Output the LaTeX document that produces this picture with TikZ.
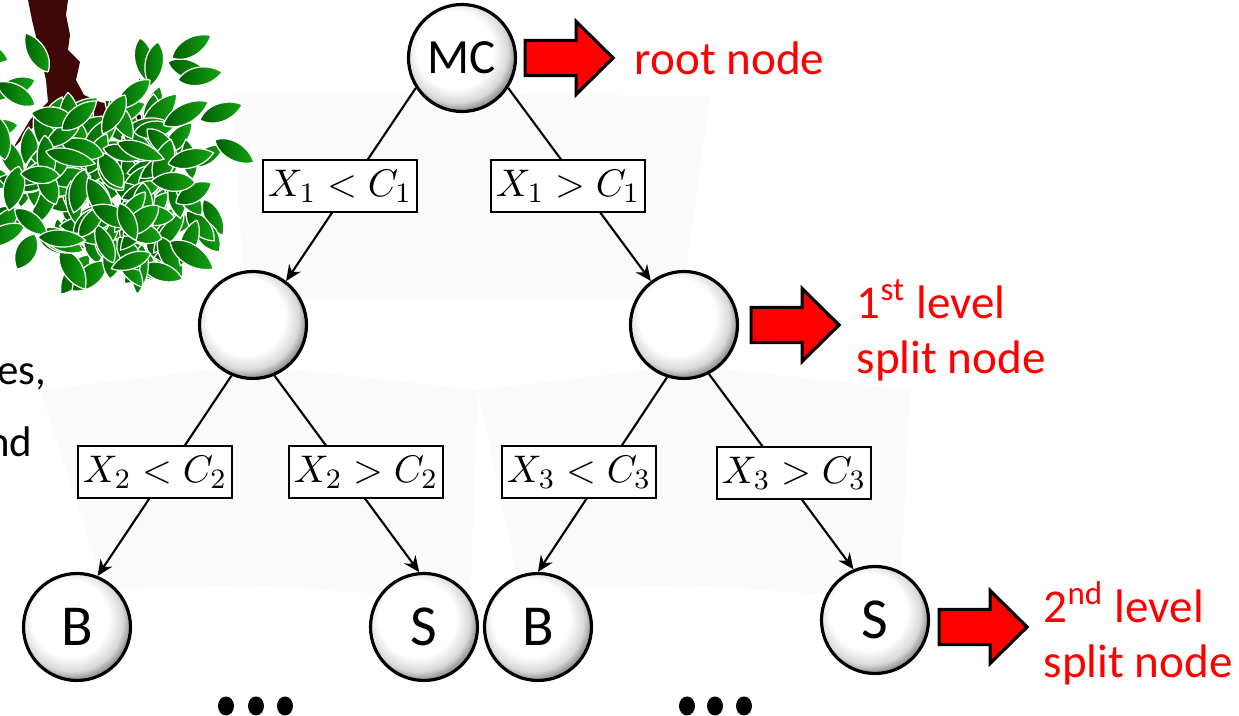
\documentclass[tikz,border=0pt]{standalone}
\usepackage{fontspec}
\setmainfont{Carlito}
\usetikzlibrary{arrows.meta, positioning}
\definecolor{leafdark}{RGB}{0,92,0}
\definecolor{leaflight}{RGB}{20,165,20}
\definecolor{bark}{RGB}{62,6,6}
\definecolor{markred}{RGB}{255,0,0}
% white ball, darker rim towards the lower right
\pgfdeclareradialshading{bubble}{\pgfpoint{-5bp}{6bp}}{color(0bp)=(white); color(18bp)=(white); color(24bp)=(black!15); color(27bp)=(black!40); color(50bp)=(black!40)}

\begin{document}
\begin{tikzpicture}[
  x=0.1mm, y=-0.1mm,
  treenode/.style={circle, draw, line width=0.9pt, shading=bubble, minimum size=1.07cm,
    inner sep=0pt},
  cond/.style={rectangle, draw, fill=white, line width=0.6pt, minimum width=1.54cm,
    minimum height=0.52cm, inner sep=1pt, font=\fontsize{11}{13}\selectfont},
  arrow/.style={-{Stealth[length=4.5pt, width=4pt]}, line width=0.6pt},
  note/.style={text=markred, font=\fontsize{13.4}{15.5}\selectfont, align=left, inner sep=0pt},
  redarrow/.pic={
    \draw[fill=markred, line width=0.9pt, line join=miter]
      (0,-17.5) -- (51,-17.5) -- (51,-36.5) -- (88,0) -- (51,36.5) -- (51,17.5) -- (0,17.5) -- cycle;
    \coordinate (-tip) at (88,0);},
  leaf/.pic={
    \shade[left color=leafdark, right color=leaflight, draw=white, line width=0.35pt]
      (0,0) .. controls (10,-12) and (32,-12) .. (45,0) .. controls (32,12) and (10,12) .. (0,0);}
]
\useasboundingbox (0,0) rectangle (1239,716);

% pale pages in the back
\fill[black!1.5] (232,92) -- (710,96) -- (682,300) -- (245,300) -- cycle;
\fill[black!1.5] (40,390) -- (250,365) -- (478,390) -- (470,600) -- (250,585) -- (105,590) -- cycle;
\fill[black!1.5] (478,390) -- (690,365) -- (910,390) -- (900,600) -- (690,585) -- (520,590) -- cycle;

% the little tree
\fill[bark] (28,0) -- (68,0) -- (66,15) -- (70,35) -- (68,50) -- (80,62) -- (76,80) -- (84,95)
  -- (100,102) -- (128,108) -- (140,78) -- (137,112) -- (152,128) -- (118,120) -- (100,128)
  -- (78,118) -- (55,116) -- (35,125) -- (12,150) -- (30,120) -- (48,102) -- (46,80)
  -- (38,45) -- (32,20) -- cycle;
\pgfmathsetseed{17}
\foreach \i in {1,...,190}{
  \pgfmathsetmacro\ang{360*rnd}
  \pgfmathsetmacro\rad{sqrt(rnd)}
  \pgfmathsetmacro\lx{112+100*\rad*cos(\ang)}
  \pgfmathsetmacro\ly{192+78*\rad*sin(\ang)}
  \pgfmathsetmacro\rot{360*rnd}
  \pic[rotate=\rot, scale=0.85+0.3*rnd] at (\lx,\ly) {leaf};
}
\foreach \lx/\ly/\rot in {140/38/-80, 158/42/-100, 168/62/-20, 178/80/10, 150/80/-140,
  172/58/30, 35/80/200, 12/95/170, 48/72/120, 35/105/150, 18/125/190, 110/100/-60,
  125/95/-120, 62/130/40, 200/120/20, 215/140/-30, 5/160/100, 8/60/160}
  \pic[rotate=\rot] at (\lx,\ly) {leaf};

% cut text at the left border
\node[anchor=base east, font=\fontsize{12.2}{14}\selectfont, inner sep=0pt] (lineA) at (47,385) {es,};
\node[anchor=base east, font=\fontsize{12.2}{14}\selectfont, inner sep=0pt] (lineB) at (33,457) {nd};

% tree nodes
\node[treenode, font=\fontsize{14}{16}\selectfont] (mc) at (462,58) {MC};
\node[treenode] (n1l) at (253,325) {};
\node[treenode] (n1r) at (684,325) {};
\node[treenode, font=\fontsize{16.5}{18}\selectfont] (bl) at (77,627) {B};
\node[treenode, font=\fontsize{16.5}{18}\selectfont] (sl) at (424,627) {S};
\node[treenode, font=\fontsize{16.5}{18}\selectfont] (br) at (538,627) {B};
\node[treenode, font=\fontsize{16.5}{18}\selectfont] (sr) at (875,620) {S};

\draw[arrow] (mc.213) -- (n1l.53);
\draw[arrow] (mc.327) -- (n1r.127);
\draw[arrow] (n1l.247) -- (bl.68);
\draw[arrow] (n1l.293) -- (sl.95);
\draw[arrow] (n1r.252) -- (br.90);
\draw[arrow] (n1r.297) -- (sr.113);

% split conditions
\node[cond] (c1l) at (340,186) {$X_1 < C_1$};
\node[cond] (c1r) at (568,186) {$X_1 > C_1$};
\node[cond] (c2l) at (155,472) {$X_2 < C_2$};
\node[cond] (c2r) at (366,472) {$X_2 > C_2$};
\node[cond] (c3l) at (579,472) {$X_3 < C_3$};
\node[cond] (c3r) at (794,473) {$X_3 > C_3$};

% more branches below
\foreach \dx in {226,256,285,687,715,744}
  \fill (\dx,706) ellipse [x radius=0.8mm, y radius=0.95mm];

% red call-outs
\pic (rootarr) at ([xshift=0.8mm]mc.east) {redarrow};
\node[note, right=2.1mm of rootarr-tip] (roottxt) {root node};
\pic (lvlarr) at ([xshift=1.2mm]n1r.east) {redarrow};
\node[note, right=1.7mm of lvlarr-tip, yshift=-0.5mm] (lvltxt) {1\textsuperscript{st} level\\split node};
\pic (leafarr) at ([xshift=0.9mm, yshift=-0.7mm]sr.east) {redarrow};
\node[note, right=1.6mm of leafarr-tip, yshift=-0.6mm] (leaftxt) {2\textsuperscript{nd} level\\split node};

\end{tikzpicture}
\end{document}
